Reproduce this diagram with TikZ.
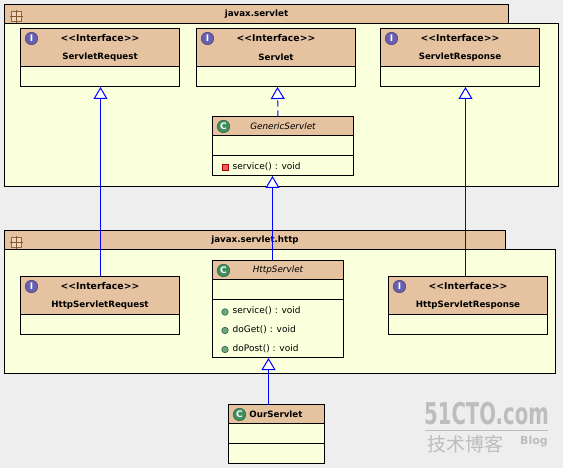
\documentclass[tikz,border=0pt]{standalone}
\usepackage{fontspec}
\setmainfont{DejaVu Sans}
\newfontfamily\cjkfont{Noto Sans CJK SC}
\usetikzlibrary{arrows.meta}
\definecolor{bgc}{HTML}{EEEEEE}
\definecolor{tan}{HTML}{E5C2A0}
\definecolor{ylw}{HTML}{FAFFDC}
\definecolor{ifc}{HTML}{6A5FB0}
\definecolor{clc}{HTML}{3F8F5F}
\definecolor{mark}{HTML}{E8606A}
\definecolor{dotc}{HTML}{6FA57F}
\definecolor{wm}{HTML}{BDBDBD}
\tikzset{
  plain/.style={draw=black,line width=1pt,inner sep=0pt,outer sep=0pt,anchor=north west},
  body/.style={plain,fill=ylw},
  head/.style={plain,fill=tan},
  ttl/.style={inner sep=0pt,font=\fontsize{8.7}{10}\selectfont\bfseries},
  stereo/.style={inner sep=0pt,font=\fontsize{9.3}{10}\selectfont\bfseries},
  itl/.style={inner sep=0pt,font=\fontsize{8.8}{10}\selectfont\itshape},
  mth/.style={inner sep=0pt,anchor=west,font=\fontsize{9}{10}\selectfont},
  inh/.style={draw=blue,line width=1pt,-{Triangle[fill=white,length=12pt,width=14pt,line width=1pt]}},
  impl/.style={inh,dash pattern=on 6pt off 4pt},
  icoI/.style={circle,inner sep=0pt,minimum size=12.5pt,fill=ifc,draw=ifc!70!black,line width=.5pt,text=white,font=\fontsize{9}{9}\selectfont\bfseries},
  icoC/.style={icoI,fill=clc,draw=clc!70!black},
  sqr/.style={draw=red!70!black,fill=mark,line width=.8pt,inner sep=0pt,minimum size=6pt},
  dotm/.style={circle,draw=clc!70!black,fill=dotc,line width=.6pt,inner sep=0pt,minimum size=6.5pt},
}
% name, x, y, width, title
\newcommand{\ifacebox}[5]{%
  \node[body,minimum width=#4pt,minimum height=58pt] (#1) at (#2,#3) {};
  \node[head,minimum width=#4pt,minimum height=38pt] (#1h) at (#2,#3) {};
  \node[stereo] (#1s) at ([yshift=9.5pt]#1h.center) {<{}<Interface>{}>};
  \node[ttl] (#1t) at ([yshift=-9.5pt]#1h.center) {#5};
  \node[icoI] (#1i) at ([xshift=11pt,yshift=-10pt]#1h.north west) {I};
}
\begin{document}
\begin{tikzpicture}[x=1pt,y=-1pt]
\useasboundingbox (0,0) rectangle (563,468);
\fill[bgc] (0,0) rectangle (563,468);

% package javax.servlet
\node[head,minimum width=504pt,minimum height=19pt] (p1tab) at (4.5,4.5) {};
\node[body,minimum width=554pt,minimum height=163pt] (p1) at (4.5,23.5) {};
\node[ttl] (p1t) at (p1tab.center) {javax.servlet};
% package javax.servlet.http
\node[head,minimum width=501pt,minimum height=19pt] (p2tab) at (4.5,230.5) {};
\node[body,minimum width=551pt,minimum height=124pt] (p2) at (4.5,249.5) {};
\node[ttl] (p2t) at (p2tab.center) {javax.servlet.http};
% package icons
\foreach \n/\yy in {k1/16.5,k2/242.5}{
  \node[draw=brown!80!black,fill=tan!70!white,line width=.8pt,inner sep=0pt,minimum size=10pt] (\n) at (16.5,\yy) {};
  \draw[brown!70!black,line width=.6pt] ([xshift=-1.5pt]\n.west) -- ([xshift=1.5pt]\n.east);
  \draw[brown!70!black,line width=.6pt] ([yshift=1.5pt]\n.north) -- ([yshift=-1.5pt]\n.south);
}

\ifacebox{req}{20.5}{28.5}{159}{ServletRequest}
\ifacebox{srv}{196.5}{28.5}{159}{Servlet}
\ifacebox{res}{380.5}{28.5}{159}{ServletResponse}
\ifacebox{hreq}{20.5}{276.5}{159}{HttpServletRequest}
\ifacebox{hres}{388.5}{276.5}{159}{HttpServletResponse}

% GenericServlet
\node[body,minimum width=141pt,minimum height=59pt] (gen) at (212.5,116.5) {};
\node[head,minimum width=141pt,minimum height=19pt] (genh) at (212.5,116.5) {};
\node[body,minimum width=141pt,minimum height=20pt] (genm) at (212.5,155.5) {};
\node[itl] (gent) at (genh.center) {GenericServlet};
\node[icoC] (geni) at ([xshift=11pt,yshift=-10pt]genh.north west) {C};
\node[sqr] (gens) at (225.5,167.5) {};
\node[mth] (gena) at (232.5,166.5) {service() : void};

% HttpServlet
\node[body,minimum width=131pt,minimum height=97pt] (hs) at (212.5,260.5) {};
\node[head,minimum width=131pt,minimum height=19pt] (hsh) at (212.5,260.5) {};
\node[body,minimum width=131pt,minimum height=58pt] (hsm) at (212.5,299.5) {};
\node[itl] (hst) at (hsh.center) {HttpServlet};
\node[icoC] (hsi) at ([xshift=11pt,yshift=-10pt]hsh.north west) {C};
\node[dotm] (d1) at (225,312) {};
\node[dotm] (d2) at (225,330.5) {};
\node[dotm] (d3) at (225,349.5) {};
\node[mth] (m1) at (232.5,311) {service() : void};
\node[mth] (m2) at (232.5,330) {doGet() : void};
\node[mth] (m3) at (232.5,349) {doPost() : void};

% OurServlet
\node[body,minimum width=96pt,minimum height=59pt] (our) at (228.5,404.5) {};
\node[head,minimum width=96pt,minimum height=19pt] (ourh) at (228.5,404.5) {};
\node[body,minimum width=96pt,minimum height=20pt] (ourm) at (228.5,443.5) {};
\node[ttl] (ourt) at ([xshift=-.5pt]ourh.center) {OurServlet};
\node[icoC] (ouri) at ([xshift=11pt,yshift=-10pt]ourh.north west) {C};

% connectors
\draw[inh] ([xshift=.5pt]hreq.north) -- ([xshift=.5pt,yshift=-.5pt]req.south);
\draw[impl] ([xshift=-5pt]gen.north) -- ([xshift=1.5pt,yshift=-.5pt]srv.south);
\draw[inh] ([xshift=-2.5pt]hres.north) -- ([xshift=5.5pt,yshift=-.5pt]res.south);
\draw[inh] ([xshift=-5.5pt]hs.north) -- ([xshift=-10.5pt,yshift=-.5pt]gen.south);
\draw[inh] ([xshift=-8pt]our.north) -- ([xshift=-9.5pt,yshift=-.5pt]hs.south);

% watermark
\node[inner sep=0pt,text=wm,font=\fontsize{24}{24}\selectfont\bfseries] (w1) at (486.5,414) {\scalebox{.82}[1.25]{51CTO.com}};
\draw[wm,line width=1.5pt] (425,430.5) -- (548,430.5);
\node[inner sep=0pt,text=wm,font=\fontsize{19}{19}\selectfont\cjkfont] (w2) at (465,444) {技术博客};
\node[inner sep=0pt,text=wm,font=\fontsize{11}{11}\selectfont\bfseries] (w3) at (534,442) {Blog};
\end{tikzpicture}
\end{document}
